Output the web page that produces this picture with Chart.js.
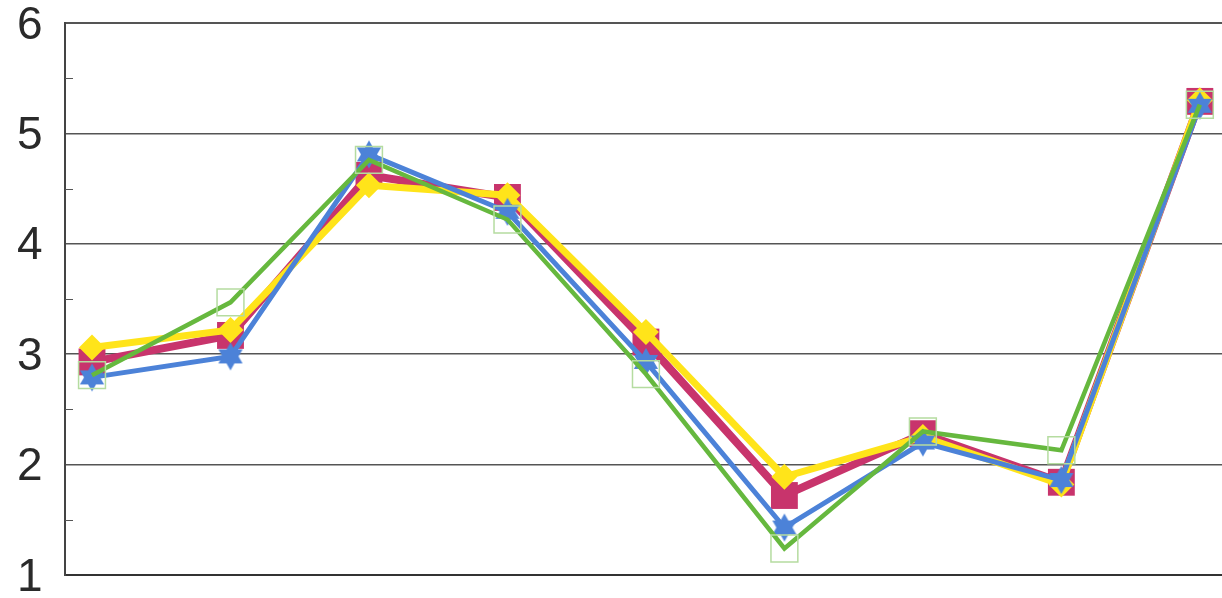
<!DOCTYPE html>
<html>
<head>
<meta charset="utf-8">
<script src="https://cdn.jsdelivr.net/npm/chart.js@4"></script>
<style>
  body { margin: 0; background: #fff; }
  #wrap { width: 1222px; height: 598px; }
</style>
</head>
<body>
<div id="wrap"><canvas id="chart" width="1222" height="598"></canvas></div>
<script>
// ================= DATA =================
const categories = ["1", "2", "3", "4", "5", "6", "7", "8", "9"];
const yTicks = [1, 2, 3, 4, 5, 6];
const magentaValues = [2.93, 3.17, 4.62, 4.42, 3.11, 1.72, 2.28, 1.84, 5.29];
const yellowValues  = [3.06, 3.22, 4.53, 4.44, 3.20, 1.89, 2.25, 1.82, 5.30];
const blueValues    = [2.79, 2.98, 4.81, 4.29, 2.93, 1.43, 2.20, 1.86, 5.25];
const greenValues   = [2.81, 3.47, 4.76, 4.22, 2.82, 1.24, 2.30, 2.13, 5.26];

// ================= HELPERS =================
function toPoints(values) {
    return values.map((v, i) => ({ x: i, y: v }));
}

// filled six-pointed star used as the blue marker
function makeStar(color, outer, inner) {
    const size = Math.ceil(outer * 2 + 2);
    const c = document.createElement("canvas");
    c.width = size;
    c.height = size;
    const g = c.getContext("2d");
    const cx = size / 2, cy = size / 2;
    g.beginPath();
    for (let i = 0; i < 12; i++) {
        const r = i % 2 === 0 ? outer : inner;
        const a = -Math.PI / 2 + i * Math.PI / 6;
        const px = cx + r * Math.cos(a);
        const py = cy + r * Math.sin(a);
        if (i === 0) g.moveTo(px, py); else g.lineTo(px, py);
    }
    g.closePath();
    g.fillStyle = color;
    g.fill();
    return c;
}

// small inside ticks on the value axis at the half steps
const minorTicks = {
    id: "minorTicks",
    beforeDatasetsDraw(chart) {
        const y = chart.scales.y;
        const left = chart.chartArea.left;
        const ctx = chart.ctx;
        ctx.save();
        ctx.strokeStyle = "#555";
        ctx.lineWidth = 1;
        for (let i = 0; i < yTicks.length - 1; i++) {
            const py = Math.round(y.getPixelForValue(yTicks[i] + 0.5)) + 0.5;
            ctx.beginPath();
            ctx.moveTo(left, py);
            ctx.lineTo(left + 8, py);
            ctx.stroke();
        }
        ctx.restore();
    }
};

// ================= CHART =================
const ctx = document.getElementById("chart").getContext("2d");
const chart = new Chart(ctx, {
    type: "line",
    data: {
        labels: categories,
        datasets: [
            {
                label: "Series 1",
                data: toPoints(magentaValues),
                borderColor: "#C8346C",
                borderWidth: 8,
                pointStyle: "rect",
                pointRadius: 19,
                pointBackgroundColor: "#C8346C",
                pointBorderWidth: 0,
                order: 4
            },
            {
                label: "Series 2",
                data: toPoints(yellowValues),
                borderColor: "#FFE41A",
                borderWidth: 7,
                pointStyle: "rectRot",
                pointRadius: 13,
                pointBackgroundColor: "#FFE41A",
                pointBorderWidth: 0,
                order: 3
            },
            {
                label: "Series 3",
                data: toPoints(blueValues),
                borderColor: "#4C82D8",
                borderWidth: 5,
                pointStyle: makeStar("#4C82D8", 14, 8),
                pointRadius: 14,
                order: 2
            },
            {
                label: "Series 4",
                data: toPoints(greenValues),
                borderColor: "#66B83E",
                borderWidth: 4.5,
                pointStyle: "rect",
                pointRadius: 19,
                pointBackgroundColor: "rgba(0,0,0,0)",
                pointBorderColor: "#B5DCA0",
                pointBorderWidth: 1.5,
                order: 1
            }
        ]
    },
    options: {
        responsive: false,
        animation: false,
        layout: { autoPadding: false, padding: { top: 0, right: 0, bottom: 0, left: 17 } },
        plugins: {
            legend: { display: false },
            tooltip: { enabled: false }
        },
        elements: { line: { tension: 0 } },
        scales: {
            x: {
                type: "linear",
                min: -0.195,
                max: 8.16,
                ticks: { display: false },
                grid: { display: false, drawTicks: false },
                border: { display: true, color: "#333", width: 2 },
                afterFit: s => { s.height = 23; }
            },
            y: {
                min: 1,
                max: 6,
                afterBuildTicks: s => { s.ticks = yTicks.map(v => ({ value: v })); },
                ticks: {
                    color: "#2a2a2a",
                    padding: 0,
                    crossAlign: "far",
                    labelOffset: 3,
                    font: { family: "'Liberation Sans', Arial, sans-serif", size: 46, lineHeight: 1.0 }
                },
                grid: {
                    drawTicks: false,
                    color: "#555",
                    lineWidth: c => (c.tick && (c.tick.value === 6 || c.tick.value === 1)) ? 2 : 1.5
                },
                border: { display: true, color: "#444", width: 2 },
                afterFit: s => { s.width = 48; }
            }
        }
    },
    plugins: [minorTicks]
});
</script>
</body>
</html>
